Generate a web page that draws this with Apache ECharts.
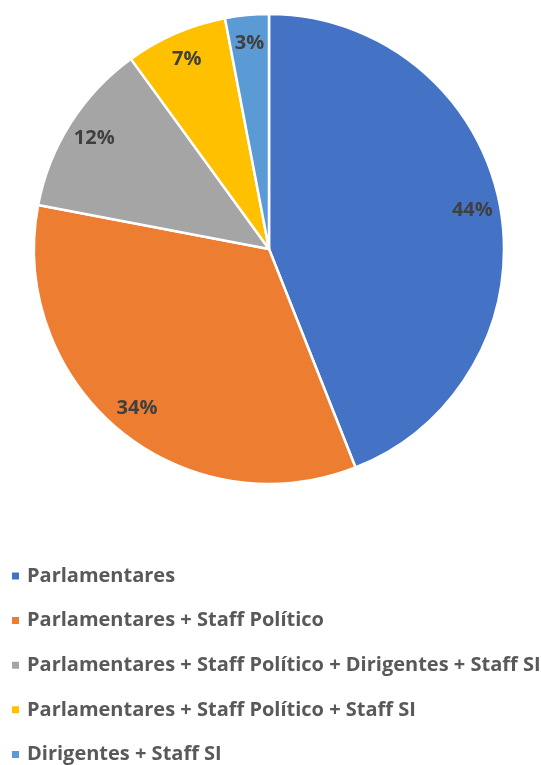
<!DOCTYPE html>
<html>
<head>
<meta charset="utf-8">
<script src="https://cdn.jsdelivr.net/npm/echarts@6/dist/echarts.min.js"></script>
<style>
  html, body { margin: 0; padding: 0; background: #fff; }
  #chart { width: 541px; height: 765px; }
</style>
</head>
<body>
<div id="chart"></div>
<script>
const categories = [
  "Parlamentares",
  "Parlamentares + Staff Político",
  "Parlamentares + Staff Político + Dirigentes + Staff SI",
  "Parlamentares + Staff Político + Staff SI",
  "Dirigentes + Staff SI"
];
const shares = [44, 34, 12, 7, 3];
const colors = ["#4472C4", "#ED7D31", "#A5A5A5", "#FFC000", "#5B9BD5"];

const chart = echarts.init(document.getElementById("chart"));

const data = categories.map((name, i) => ({
  name: name,
  value: shares[i],
  itemStyle: { color: colors[i] }
}));

const center = [269, 249];

chart.setOption({
  animation: false,
  backgroundColor: "#fff",
  legend: {
    orient: "vertical",
    left: 10,
    top: 566,
    height: 199,
    padding: 0,
    icon: "rect",
    itemWidth: 9,
    itemHeight: 9,
    itemGap: 24.6,
    textStyle: {
      fontFamily: "Open Sans",
      fontWeight: "bold",
      fontSize: 20,
      color: "#595959",
      lineHeight: 20,
      padding: [0, 0, 0, 2]
    },
    data: categories
  },
  series: [
    {
      type: "pie",
      radius: [0, 235],
      center: center,
      startAngle: 90,
      clockwise: true,
      silent: true,
      label: { show: false },
      labelLine: { show: false },
      itemStyle: { borderColor: "#fff", borderWidth: 2.5 },
      data: data
    },
    {
      type: "pie",
      radius: [172, 236],
      center: center,
      startAngle: 90,
      clockwise: true,
      silent: true,
      legendHoverLink: false,
      itemStyle: { color: "rgba(0,0,0,0)", borderWidth: 0 },
      label: {
        show: true,
        position: "inside",
        formatter: "{c}%",
        fontFamily: "Open Sans",
        fontWeight: "bold",
        fontSize: 20,
        color: "#404040"
      },
      labelLine: { show: false },
      data: categories.map((name, i) => ({ name: name + " ", value: shares[i] }))
    }
  ]
});
</script>
</body>
</html>
